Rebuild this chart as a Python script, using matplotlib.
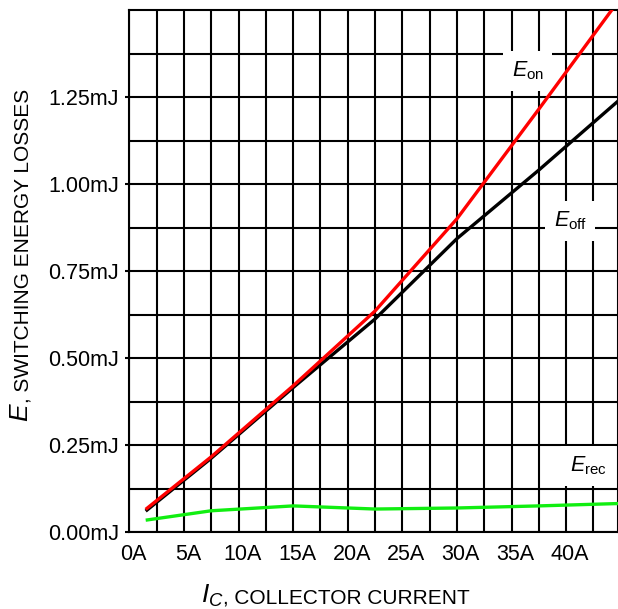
import matplotlib
matplotlib.use("Agg")
import matplotlib.pyplot as plt
import matplotlib.transforms as mtransforms
import numpy as np

plt.rcParams['font.family'] = ['Liberation Sans', 'DejaVu Sans']
plt.rcParams['mathtext.fontset'] = 'custom'
plt.rcParams['mathtext.rm'] = 'Liberation Sans'
plt.rcParams['mathtext.it'] = 'Liberation Sans:italic'

# data
ic = [1.5, 7.5, 15, 22.5, 30, 37.5, 45]
e_on = [0.065, 0.216, 0.42, 0.635, 0.90, 1.215, 1.535]
e_off = [0.060, 0.212, 0.415, 0.612, 0.843, 1.040, 1.245]
e_rec = [0.034, 0.061, 0.075, 0.066, 0.069, 0.075, 0.082]

x_ticks = [0, 5, 10, 15, 20, 25, 30, 35, 40]
x_labels = ['0A', '5A', '10A', '15A', '20A', '25A', '30A', '35A', '40A']
y_ticks = [0, 0.25, 0.5, 0.75, 1.0, 1.25]
y_labels = ['0.00mJ', '0.25mJ', '0.50mJ', '0.75mJ', '1.00mJ', '1.25mJ']

W, H = 618, 609
fig = plt.figure(figsize=(W / 100, H / 100), dpi=100)
ax = fig.add_axes([129.3 / W, 77 / H, (W - 129.3) / W, 522 / H])

ax.plot(ic, e_rec, color='#11ee11', lw=2.4, zorder=3, solid_capstyle='butt')
ax.plot(ic, e_off, color='black', lw=2.4, zorder=4, solid_capstyle='butt')
ax.plot(ic, e_on, color='#ff0000', lw=2.4, zorder=5, solid_capstyle='butt')

ax.set_xlim(0, 44.75)
ax.set_ylim(0, 1.5)
ax.set_xticks(x_ticks)
ax.set_xticklabels(x_labels)
ax.set_xticks(np.arange(0, 45, 2.5), minor=True)
ax.set_yticks(y_ticks)
ax.set_yticklabels(y_labels)
ax.set_yticks(np.arange(0, 1.5, 0.125), minor=True)

ax.grid(True, which='both', color='black', lw=1.5, zorder=1)
ax.set_axisbelow(True)
for s in ax.spines.values():
    s.set_linewidth(1.5)

ax.tick_params(axis='x', which='both', length=0, pad=8.5, labelsize=15.5)
ax.tick_params(axis='y', which='major', length=3, width=1.5, pad=4.5, labelsize=15.5)
ax.tick_params(axis='y', which='minor', length=0)

shift = mtransforms.ScaledTranslation(4 / 100, 0, fig.dpi_scale_trans)
for lab in ax.get_xticklabels():
    lab.set_transform(lab.get_transform() + shift)

box = dict(facecolor='white', edgecolor='none', pad=6)
ax.text(36.5, 1.325, r'$E_{\mathrm{on}}$', fontsize=15.5, ha='center', va='center', bbox=box, zorder=2)
ax.text(40.4, 0.894, r'$E_{\mathrm{off}}$', fontsize=15.5, ha='center', va='center', bbox=box, zorder=2)
ax.text(42.0, 0.19, r'$E_{\mathrm{rec}}$', fontsize=15.5, ha='center', va='center', bbox=box, zorder=2)

# axis titles
fig.text(201 / W, 1 - 603 / H, r'$I_C$', fontsize=19, ha='left', va='baseline')
fig.text(223 / W, 1 - 603 / H, ', COLLECTOR CURRENT', fontsize=15, ha='left', va='baseline')
fig.text(28 / W, 1 - 422 / H, r'$E$', fontsize=19, rotation=90, rotation_mode='anchor',
         ha='left', va='baseline')
fig.text(28 / W, 1 - 403 / H, ', SWITCHING ENERGY LOSSES', fontsize=15, rotation=90,
         rotation_mode='anchor', ha='left', va='baseline')

fig.savefig('out.png', dpi=100)
